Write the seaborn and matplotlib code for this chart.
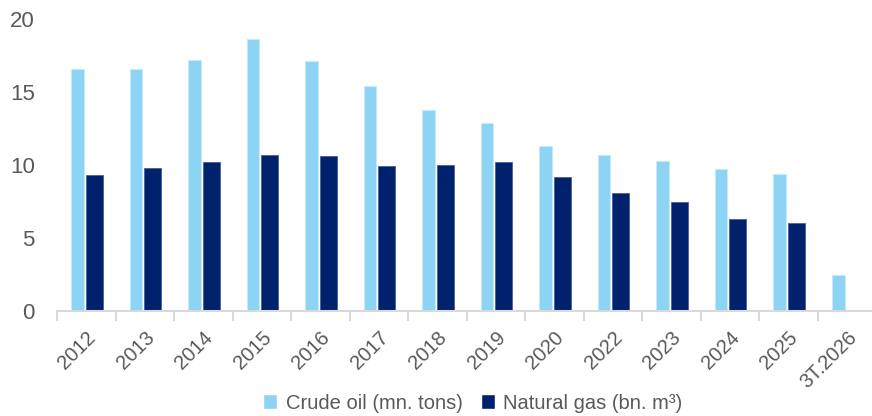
import matplotlib
matplotlib.use("Agg")
import matplotlib.pyplot as plt
import numpy as np
import pandas as pd
import seaborn as sns

years = ["2012", "2013", "2014", "2015", "2016", "2017", "2018", "2019",
         "2020", "2022", "2023", "2024", "2025", "3T.2026"]
crude_oil = [16.6, 16.6, 17.2, 18.6, 17.1, 15.4, 13.8, 12.9,
             11.3, 10.7, 10.25, 9.7, 9.35, 2.45]
natural_gas = [9.3, 9.8, 10.2, 10.7, 10.6, 9.9, 10.0, 10.2,
               9.2, 8.1, 7.45, 6.3, 6.0, np.nan]
series_names = ["Crude oil (mn. tons)", "Natural gas (bn. m³)"]
colors = ["#8DD3F3", "#00216B"]

df = pd.DataFrame({
    "year": years * 2,
    "value": crude_oil + natural_gas,
    "series": [series_names[0]] * len(years) + [series_names[1]] * len(years),
})

sns.set_theme(style="white")
plt.rcParams["font.family"] = ["Liberation Sans", "DejaVu Sans"]

fig = plt.figure(figsize=(8.72, 4.16), dpi=100)
ax = fig.add_axes([57 / 872, 105 / 416, 815 / 872, 292 / 416])

sns.barplot(data=df, x="year", y="value", hue="series", order=years,
            hue_order=series_names, palette=colors, width=0.6, gap=0.0,
            saturation=1, errorbar=None, ax=ax, legend=True)

# oil bars are drawn slimmer than gas bars, with a thin pale outline
for cont, name in zip(ax.containers, series_names):
    for i, p in enumerate(cont.patches):
        if name == series_names[0]:
            p.set_width(0.215)
            p.set_x(i - 0.255)
            p.set_edgecolor("#C6EAFA")
            p.set_linewidth(0.8)
        else:
            p.set_width(0.29)
            p.set_x(i - 0.01)
            p.set_edgecolor("#4A5F95")
            p.set_linewidth(0.6)

ax.set_ylim(0, 20)
ax.set_yticks([0, 5, 10, 15, 20])
ax.set_xlim(-0.5, 13.43)
ax.set_xlabel("")
ax.set_ylabel("")

for s in ["top", "right", "left"]:
    ax.spines[s].set_visible(False)
ax.spines["bottom"].set_color("#D9D9D9")
ax.spines["bottom"].set_linewidth(1.5)

ax.set_xticks(np.arange(len(years)) - 0.5, minor=True)
ax.tick_params(axis="x", which="minor", length=7, width=1.5, color="#D9D9D9",
               direction="out", bottom=True)
ax.tick_params(axis="x", which="major", length=0, pad=12, labelsize=14.5,
               labelcolor="#595959")
ax.tick_params(axis="y", length=0, pad=16, labelsize=16, labelcolor="#595959")
plt.setp(ax.get_xticklabels(), rotation=45, ha="right", rotation_mode="anchor")

leg = ax.legend(loc="lower center", bbox_to_anchor=(0.51, -0.41),
                ncol=2, frameon=False, fontsize=14.5, handlelength=0.7,
                handleheight=0.7, handletextpad=0.4, columnspacing=0.9,
                labelcolor="#595959")

fig.savefig("out.png", dpi=100)
